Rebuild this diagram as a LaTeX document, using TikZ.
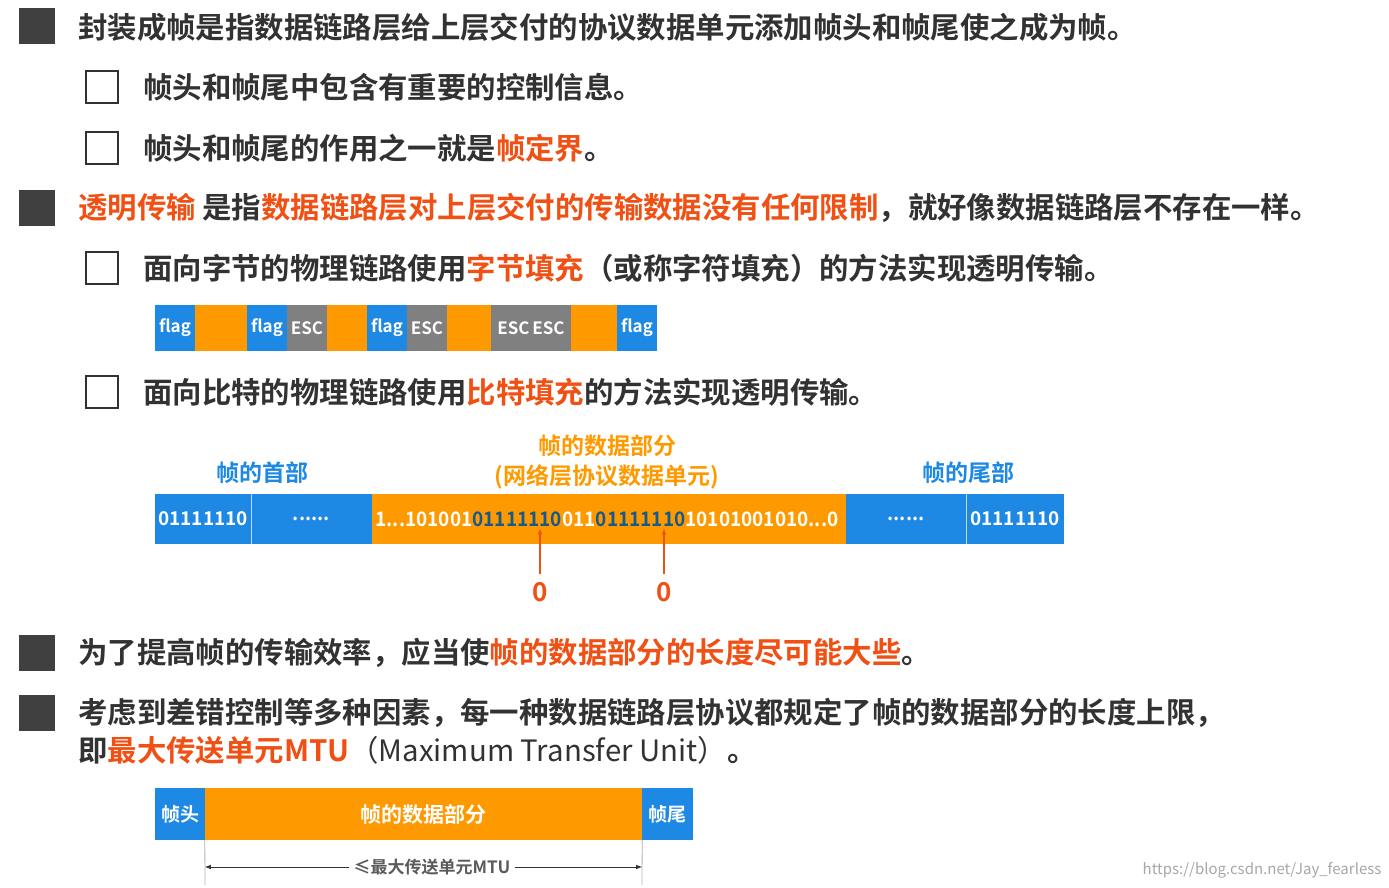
\documentclass[tikz,border=0pt]{standalone}
\usepackage{fontspec}
\setmainfont{Noto Sans CJK SC}[BoldFont={* Bold}]
\newfontfamily\cjk{Noto Sans CJK SC Bold}
\newfontfamily\plain{Noto Sans CJK SC}
\usetikzlibrary{arrows.meta}
\definecolor{bblue}{RGB}{30,136,229}
\definecolor{bor}{RGB}{255,153,0}
\definecolor{bgray}{RGB}{128,128,128}
\definecolor{hl}{RGB}{240,80,20}
\definecolor{txt}{RGB}{50,50,50}
\definecolor{sq}{RGB}{64,64,64}
\definecolor{dteal}{RGB}{20,90,140}
\tikzset{
 bul/.style={fill=sq,minimum size=36pt,inner sep=0pt},
 chk/.style={draw=txt,line width=2.2pt,minimum size=32pt,inner sep=0pt},
 line/.style={anchor=west,inner sep=0pt,font=\cjk\fontsize{29.4}{29}\selectfont,text=txt},
 seg/.style={minimum height=46pt,inner sep=0pt,text=white,font=\cjk\fontsize{19}{19}\selectfont},
 lab/.style={inner sep=0pt,font=\cjk\fontsize{23}{23}\selectfont},
}
\newcommand{\hh}[1]{\textcolor{hl}{#1}}
\begin{document}
\begin{tikzpicture}[x=1pt,y=-1pt]
\useasboundingbox (0,0) rectangle (1389,888);
% rows
\node[bul] (b1) at (37,26) {};
\node[line] (t1) at (78,27) {封装成帧是指数据链路层给上层交付的协议数据单元添加帧头和帧尾使之成为帧。};
\node[chk] (c1) at (102,87) {};
\node[line] (t2) at (143,87) {帧头和帧尾中包含有重要的控制信息。};
\node[chk] (c2) at (102,148) {};
\node[line] (t3) at (143,148) {帧头和帧尾的作用之一就是\hh{帧定界}。};
\node[bul] (b2) at (37,208) {};
\node[line] (t4) at (78,208) {\hh{透明传输} 是指\hh{数据链路层对上层交付的传输数据没有任何限制}，就好像数据链路层不存在一样。};
\node[chk] (c3) at (102,268) {};
\node[line] (t5) at (143,268) {面向字节的物理链路使用\hh{字节填充}（或称字符填充）的方法实现透明传输。};
% flag bar
\foreach \a/\b/\c/\t [count=\i] in {155/195/bblue/flag,195/247/bor/,247/287/bblue/flag,287/327/bgray/ESC,327/367/bor/,367/407/bblue/flag,407/447/bgray/ESC,447/491/bor/,491/571/bgray/ESC\,ESC,571/617/bor/,617/657/bblue/flag}
  \node[seg,fill=\c,minimum width={\b-\a},font=\cjk\fontsize{17}{17}\selectfont] (f\i) at ({(\a+\b)/2},328) {\t};
\node[chk] (c4) at (102,392) {};
\node[line] (t6) at (143,392) {面向比特的物理链路使用\hh{比特填充}的方法实现透明传输。};
% bit bar
\node[lab,text=bblue] (h1) at (262,473) {帧的首部};
\node[lab,text=bor] (h2) at (607,446) {帧的数据部分};
\node[lab,text=bor] (h3) at (607,477) {(网络层协议数据单元)};
\node[lab,text=bblue] (h4) at (968,473) {帧的尾部};
\node[seg,fill=bblue,minimum width=96pt,minimum height=50pt] (p1) at (203,519) {01111110};
\node[seg,fill=bblue,minimum width=121pt,minimum height=50pt] (p2) at (311.5,519) {......};
\node[seg,fill=bor,minimum width=474pt,minimum height=50pt] (p3) at (609,519) {};
\node[seg,fill=bblue,minimum width=120pt,minimum height=50pt] (p4) at (906,519) {......};
\node[seg,fill=bblue,minimum width=98pt,minimum height=50pt] (p5) at (1015,519) {01111110};
\draw[white!70!bblue,line width=0.6pt] (p1.north east) -- (p1.south east) (p4.north east) -- (p4.south east);
\node[inner sep=0pt,text=white,font=\cjk\fontsize{20}{20}\selectfont] (d) at (607,519) {\scalebox{0.95}[1]{1...101001\textcolor{dteal}{01111110}011\textcolor{dteal}{01111110}10101001010...0}};
\coordinate (a1) at (540,529);
\coordinate (a2) at (664,529);
\node[lab,text=hl,font=\cjk\fontsize{26}{26}\selectfont] (z1) at (540,592) {0};
\node[lab,text=hl,font=\cjk\fontsize{26}{26}\selectfont] (z2) at (664,592) {0};
\draw[hl,line width=2pt,-{Stealth[length=6pt]}] (z1.north) ++(0,-8) -- (a1);
\draw[hl,line width=2pt,-{Stealth[length=6pt]}] (z2.north) ++(0,-8) -- (a2);
% more rows
\node[bul] (b3) at (37,653) {};
\node[line] (t7) at (78,653) {为了提高帧的传输效率，应当使\hh{帧的数据部分的长度尽可能大些}。};
\node[bul] (b4) at (37,713) {};
\node[line] (t8) at (78,713) {考虑到差错控制等多种因素，每一种数据链路层协议都规定了帧的数据部分的长度上限，};
\node[line] (t9) at (78,750) {即\hh{最大传送单元MTU}{\plain（Maximum Transfer Unit）}。};
% MTU bar
\node[seg,fill=bblue,minimum width=50pt,minimum height=52pt] (m1) at (180,814) {帧头};
\node[seg,fill=bor,minimum width=437pt,minimum height=52pt,font=\cjk\fontsize{21}{21}\selectfont] (m2) at (423.5,814) {帧的数据部分};
\node[seg,fill=bblue,minimum width=51pt,minimum height=52pt] (m3) at (667.5,814) {帧尾};
\coordinate (v1) at (205,885);
\coordinate (v2) at (642,885);
\draw[gray!60,line width=0.8pt] (m2.south west) -- (v1) (m2.south east) -- (v2);
\node[inner sep=4pt,fill=white,text=txt!80,font=\cjk\fontsize{17}{17}\selectfont] (mt) at (432,867) {≤最大传送单元MTU};
\draw[txt,line width=0.8pt,{Latex[length=6pt]}-] (m2.south west |- mt) -- (mt.west);
\draw[txt,line width=0.8pt,-{Latex[length=6pt]}] (mt.east) -- (m2.south east |- mt);
\node[inner sep=0pt,text=gray!70,font=\plain\fontsize{15}{15}\selectfont] (wm) at (1262,870) {https://blog.csdn.net/Jay\_fearless};
\end{tikzpicture}
\end{document}
